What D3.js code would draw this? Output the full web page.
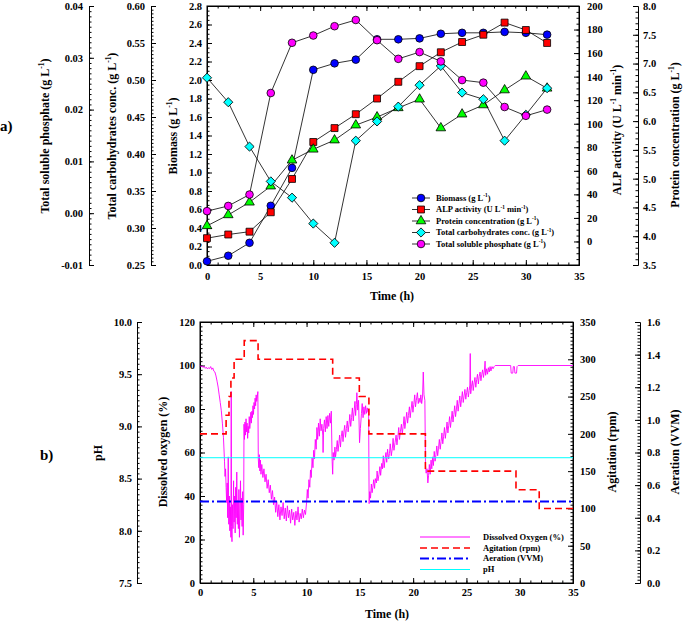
<!DOCTYPE html>
<html><head><meta charset="utf-8">
<script src="https://cdn.jsdelivr.net/npm/d3@7"></script>
<style>body{margin:0;background:#fff}</style>
</head><body>
<svg id="c" width="685" height="624" xmlns="http://www.w3.org/2000/svg"></svg>
<script>
// ---------- DATA: panel a ----------
const timeA = [0,2,4,6,8,10,12,14,16,18,20,22,24,26,28,30,32];
const biomass = [0.04,0.10,0.24,0.64,1.05,2.11,2.18,2.22,2.44,2.44,2.45,2.50,2.51,2.51,2.52,2.51,2.49];
const alpActivity = [2.8,5.9,8.3,24.8,53.1,84.5,96.3,108.1,121.4,135.6,148.9,160.7,169.4,175.6,185.9,179.6,168.6];
const protein = [4.18,4.37,4.59,4.87,5.32,5.51,5.67,5.93,6.07,6.23,6.38,5.88,6.12,6.28,6.54,6.78,6.57];
const carbohydrates = [0.503,0.470,0.410,0.363,0.341,0.306,0.280,0.418,0.444,0.464,0.493,0.519,0.483,0.474,0.418,0.453,0.489];
const phosphate = [0.0004,0.0014,0.0036,0.0232,0.0329,0.0343,0.0361,0.0373,0.0334,0.0298,0.0311,0.0293,0.0257,0.0252,0.0205,0.0188,0.0200];

const ticksTime = [0,5,10,15,20,25,30,35];
const ticksBiomass = [0,0.2,0.4,0.6,0.8,1.0,1.2,1.4,1.6,1.8,2.0,2.2,2.4,2.6,2.8];
const ticksPhos = [-0.01,0,0.01,0.02,0.03,0.04];
const ticksCarb = [0.25,0.30,0.35,0.40,0.45,0.50,0.55,0.60];
const ticksALP = [0,20,40,60,80,100,120,140,160,180,200];
const ticksProt = [3.5,4.0,4.5,5.0,5.5,6.0,6.5,7.0,7.5,8.0];

// ---------- DATA: panel b ----------
const agitationSteps = [[0,200],[2.45,225],[2.72,250],[2.9,275],[3.2,300],[4.15,325],[5.45,300],[12.45,275],[14.95,250],[15.85,200],[21.15,150],[29.65,125],[31.83,100],[35,100]];
const aerationVVM = [[0,0.5],[35,0.5]];
const pHValues = [[0,8.7],[35,8.7]];
const dissolvedOxygen = [
[0.0,100.0],[0.1,99.4],[0.2,99.8],[0.3,99.1],[0.4,99.6],[0.5,98.7],[0.6,99.2],[0.7,98.4],[0.8,99.0],[0.9,98.6],
[1.0,99.5],[1.1,98.2],[1.2,98.9],[1.3,97.4],[1.4,97.0],[1.5,95.2],[1.6,92.8],[1.7,90.1],[1.8,86.5],[1.9,83.0],
[2.0,79.2],[2.1,73.5],[2.2,67.0],[2.3,56.0],[2.35,49.0],[2.4,52.5],[2.45,44.0],[2.5,37.0],[2.55,46.0],[2.6,30.0],
[2.65,58.0],[2.7,27.0],[2.75,40.0],[2.8,24.0],[2.85,35.0],[2.9,21.0],[2.93,88.0],[2.96,26.0],[3.0,19.0],[3.05,36.0],
[3.1,25.0],[3.15,47.0],[3.2,28.0],[3.25,40.0],[3.3,23.0],[3.35,44.0],[3.4,30.0],[3.45,51.0],[3.5,27.0],[3.55,38.0],
[3.6,25.0],[3.65,43.0],[3.7,21.0],[3.75,34.0],[3.8,47.0],[3.85,29.0],[3.9,39.0],[3.95,26.0],[4.0,42.0],[4.05,22.0],
[4.1,36.0],[4.13,73.0],[4.17,66.0],[4.22,74.0],[4.27,68.0],[4.32,75.5],[4.37,69.5],[4.42,73.5],[4.47,66.5],[4.52,72.0],
[4.57,69.0],[4.62,76.5],[4.67,71.0],[4.72,74.0],[4.77,78.5],[4.82,73.5],[4.87,79.0],[4.92,76.0],[4.97,81.5],[5.02,77.5],
[5.07,83.0],[5.12,80.0],[5.17,85.0],[5.22,81.5],[5.27,86.5],[5.32,83.5],[5.37,85.5],[5.43,88.0],[5.47,57.0],[5.52,53.0],
[5.57,59.0],[5.62,51.5],[5.67,56.5],[5.72,50.0],[5.8,54.5],[5.9,48.5],[6.0,52.5],[6.1,46.5],[6.2,50.0],[6.3,43.5],
[6.4,47.5],[6.5,41.5],[6.6,45.0],[6.7,38.5],[6.8,42.5],[6.9,36.0],[7.0,39.5],[7.1,32.5],[7.2,37.5],[7.3,30.5],
[7.4,36.0],[7.5,29.0],[7.6,35.0],[7.7,31.0],[7.8,37.0],[7.9,29.5],[8.0,34.5],[8.1,28.5],[8.2,35.5],[8.3,30.0],
[8.4,33.5],[8.5,27.5],[8.6,34.0],[8.7,29.0],[8.8,32.5],[8.9,26.5],[9.0,33.0],[9.1,29.0],[9.2,35.0],[9.3,28.0],
[9.4,32.0],[9.5,29.5],[9.6,34.0],[9.7,30.0],[9.8,33.5],[9.9,31.5],
[10.0,37.0],[10.07,43.0],[10.14,39.0],[10.22,47.5],[10.3,44.0],[10.37,52.0],[10.44,48.5],[10.52,57.5],[10.6,53.0],[10.67,61.0],
[10.74,57.0],[10.82,66.0],[10.9,61.5],[10.97,71.5],[11.04,66.0],[11.12,73.5],[11.2,67.5],[11.28,75.5],[11.36,70.0],[11.44,73.0],
[11.52,68.0],[11.55,60.0],[11.6,71.0],[11.68,75.0],[11.76,69.5],[11.84,76.5],[11.92,71.0],[12.0,77.0],[12.08,72.0],[12.16,78.0],
[12.24,73.5],[12.32,79.0],[12.4,56.0],
[12.45,50.0],[12.5,60.0],[12.58,56.5],[12.66,62.5],[12.72,58.0],[12.8,61.5],[12.88,65.5],[12.95,60.5],[13.03,64.0],[13.1,68.0],
[13.18,62.5],[13.26,67.5],[13.34,70.0],[13.42,65.0],[13.5,69.5],[13.58,72.5],[13.65,67.0],[13.74,71.0],[13.82,74.5],[13.9,69.5],
[13.98,73.0],[14.06,77.5],[14.14,72.0],[14.22,76.0],[14.3,80.5],[14.38,74.5],[14.46,79.0],[14.54,83.5],[14.6,77.0],[14.67,82.0],
[14.72,87.5],[14.8,79.5],[14.88,84.0],[14.97,64.5],[15.05,71.0],[15.15,78.0],[15.22,82.5],[15.3,76.0],[15.38,81.0],[15.46,77.5],
[15.54,81.5],[15.62,78.0],[15.7,80.5],[15.78,78.5],[15.82,80.0],
[15.87,36.5],[15.93,42.0],[16.0,39.0],[16.08,45.5],[16.15,41.5],[16.22,44.0],[16.3,47.5],[16.38,43.5],[16.45,48.0],[16.55,46.0],
[16.62,51.5],[16.7,47.0],[16.8,50.0],[16.88,53.5],[16.95,49.5],[17.05,55.0],[17.12,52.5],[17.2,58.5],[17.28,53.0],[17.35,56.5],
[17.45,60.0],[17.52,55.5],[17.6,61.5],[17.7,57.0],[17.78,59.5],[17.85,64.0],[17.95,58.5],[18.05,62.0],[18.12,66.5],[18.2,61.0],
[18.3,64.5],[18.4,68.0],[18.48,63.5],[18.56,67.0],[18.65,71.5],[18.72,66.0],[18.8,69.5],[18.9,73.0],[18.98,68.5],[19.06,72.0],
[19.15,76.5],[19.22,71.0],[19.3,74.0],[19.4,78.5],[19.48,73.5],[19.56,77.0],[19.65,81.0],[19.72,76.0],[19.8,79.5],[19.9,83.5],
[19.98,78.5],[20.06,82.0],[20.15,86.5],[20.22,81.0],[20.3,84.0],[20.4,87.5],[20.48,82.5],[20.56,85.0],[20.65,83.0],[20.72,86.5],
[20.8,82.5],[20.88,85.5],[20.95,97.0],[21.02,86.5],[21.1,84.0],
[21.16,54.0],[21.22,50.5],[21.3,52.5],[21.38,46.0],[21.45,49.5],[21.52,54.5],[21.6,50.0],[21.68,56.5],[21.75,52.5],[21.83,58.0],
[21.9,54.0],[21.98,60.5],[22.06,56.0],[22.14,59.0],[22.22,63.0],[22.3,58.5],[22.38,62.0],[22.46,66.0],[22.54,61.5],[22.62,65.0],
[22.7,69.0],[22.78,64.0],[22.86,67.5],[22.94,71.5],[23.02,66.5],[23.1,70.0],[23.18,74.0],[23.26,69.0],[23.34,72.5],[23.42,76.5],
[23.5,71.5],[23.58,75.0],[23.66,79.0],[23.74,74.0],[23.82,77.5],[23.9,81.5],[23.98,76.5],[24.06,80.0],[24.14,84.0],[24.22,79.0],
[24.3,82.5],[24.38,86.0],[24.46,81.0],[24.54,84.5],[24.62,88.0],[24.7,83.0],[24.78,86.0],[24.86,89.0],[24.94,84.5],[25.02,87.5],
[25.1,90.0],[25.18,85.5],[25.26,88.5],[25.32,91.0],[25.36,105.5],[25.4,87.0],[25.48,90.5],[25.56,93.0],[25.64,88.5],[25.72,92.0],
[25.8,94.5],[25.88,90.0],[25.96,93.5],[26.04,96.0],[26.12,91.5],[26.2,95.0],[26.28,97.0],[26.36,93.0],[26.44,96.0],[26.52,98.0],
[26.6,94.5],[26.68,97.5],[26.75,102.0],[26.8,95.5],[26.9,98.5],[26.98,96.0],[27.06,99.0],[27.14,97.0],[27.22,99.5],[27.3,97.5],
[27.4,99.5],[27.5,98.5],[27.6,99.5],[27.7,100.0],
[29.15,100.0],[29.2,96.5],[29.35,96.5],[29.4,99.5],[29.5,99.5],[29.55,96.5],[29.7,96.5],[29.75,99.5],[29.85,100.0],[35.0,100.0]];

const ticksDO = [0,20,40,60,80,100,120];
const ticksPH = [7.5,8.0,8.5,9.0,9.5,10.0];
const ticksRpm = [0,50,100,150,200,250,300,350];
const ticksVVM = [0,0.2,0.4,0.6,0.8,1.0,1.2,1.4,1.6];

// ---------- drawing ----------
const svg = d3.select('#c');
const F = '"Liberation Serif","Times New Roman",Times,serif';
const hy = f => d => d3.format(f)(d).replace('\u2212','-');

function styleAxis(g, fs){
  g.attr('font-family',null).attr('font-size',null);
  g.selectAll('text').attr('font-size',fs).attr('font-weight','bold').attr('font-family',F).attr('fill','#000');
  g.selectAll('path,line').attr('stroke','#000').attr('stroke-width',1);
}
function makeAxis(orient, scale, tx, ty, major, minor, fmt, pad, labels=true){
  const A = {left:d3.axisLeft,right:d3.axisRight,top:d3.axisTop,bottom:d3.axisBottom}[orient];
  const g = svg.append('g').attr('transform',`translate(${tx},${ty})`);
  g.append('g').call(A(scale).tickValues(minor).tickSize(-2.5).tickSizeOuter(0).tickFormat(''));
  g.append('g').call(A(scale).tickValues(major).tickSize(-5).tickSizeOuter(0).tickPadding(pad).tickFormat(labels?fmt:()=>''));
  styleAxis(g, 10.5);
  return g;
}
function fixSup(sel, segs, fs){
  let shift = 0;
  segs.forEach(s=>{
    if(typeof s === 'string'){ sel.append('tspan').attr('dy',-shift).text(s); shift=0; }
    else { sel.append('tspan').attr('font-size',fs*0.62).attr('dy',-fs*0.42).text(s.sup); shift=-fs*0.42; }
  });
}
function label(x,y,rot,segs,fs,anchor='middle'){
  const off = rot===-90 ? `translate(${x+fs*0.35},${y}) rotate(-90)` : `translate(${x},${y+fs*0.35})`;
  const t = svg.append('text').attr('transform',off).attr('text-anchor',anchor)
    .attr('font-size',fs).attr('font-weight','bold').attr('font-family',F).attr('fill','#000');
  fixSup(t, segs, fs);
  return t;
}
const rng = (a,b,s) => d3.range(Math.round(a/s), Math.round(b/s)+1).map(i=>+(i*s).toFixed(6));

// ===== Panel a =====
const A = {l:207, r:579, t:6, b:265};
const xA = d3.scaleLinear([0,35],[A.l,A.r]);
const yBio = d3.scaleLinear([0,2.8],[A.b,A.t]);
const yALP = d3.scaleLinear([-20,200],[A.b,A.t]);
const yProt = d3.scaleLinear([3.5,8],[A.b,A.t]);
const yCarb = d3.scaleLinear([0.25,0.6],[A.b,A.t]);
const yPhos = d3.scaleLinear([-0.01,0.04],[A.b,A.t]);

svg.append('rect').attr('x',A.l).attr('y',A.t).attr('width',A.r-A.l).attr('height',A.b-A.t)
  .attr('fill','none').attr('stroke','#000');
makeAxis('bottom', xA, 0, A.b, ticksTime, rng(0,35,1), d3.format('d'), 8);
makeAxis('top', xA, 0, A.t, ticksTime, rng(0,35,1), d3.format('d'), 3, false);
makeAxis('left', yBio, A.l, 0, ticksBiomass, rng(0,2.8,0.05), hy('.1f'), 5);
makeAxis('left', yCarb, 151, 0, ticksCarb, rng(0.25,0.6,0.005), hy('.2f'), 6);
makeAxis('left', yPhos, 89, 0, ticksPhos, rng(-0.01,0.04,0.001), hy('.2f'), 6);
makeAxis('right', yALP, A.r, 0, ticksALP, rng(-20,200,5), d3.format('d'), 8);
makeAxis('right', yProt, 638, 0, ticksProt, rng(3.5,8,0.1), hy('.1f'), 5);

const seriesA = [
  {v:biomass, y:yBio, col:'#0000ff', sym:d3.symbolCircle, size:46, rot:0},
  {v:alpActivity, y:yALP, col:'#ff0000', sym:d3.symbolSquare, size:48, rot:0},
  {v:protein, y:yProt, col:'#00ff00', sym:d3.symbolTriangle, size:40, rot:0},
  {v:carbohydrates, y:yCarb, col:'#00ffff', sym:d3.symbolSquare, size:42, rot:45},
  {v:phosphate, y:yPhos, col:'#ff00ff', sym:d3.symbolCircle, size:46, rot:0}
];
seriesA.forEach(s=>{
  const pts = timeA.map((t,i)=>[t,s.v[i]]);
  svg.append('path').attr('d', d3.line().x(d=>xA(d[0])).y(d=>s.y(d[1]))(pts))
    .attr('fill','none').attr('stroke','#000').attr('stroke-width',0.8);
  svg.append('g').selectAll('path').data(pts).join('path')
    .attr('transform',d=>`translate(${xA(d[0])},${s.y(d[1])}) rotate(${s.rot})`)
    .attr('d', d3.symbol().type(s.sym).size(s.size)())
    .attr('fill',s.col).attr('stroke','#000').attr('stroke-width',0.8);
});

// legend a
const legA = [
  ['Biomass (g L',{sup:'-1'},')'],
  ['ALP activity (U L',{sup:'-1'},' min',{sup:'-1'},')'],
  ['Protein concentration (g L',{sup:'-1'},')'],
  ['Total carbohydrates conc. (g L',{sup:'-1'},')'],
  ['Total soluble phosphate (g L',{sup:'-1'},')']
];
const legAy = [198,209.5,221,232.5,244];
seriesA.forEach((s,i)=>{
  const y = legAy[i];
  svg.append('line').attr('x1',412).attr('x2',430).attr('y1',y).attr('y2',y).attr('stroke','#000').attr('stroke-width',0.8);
  svg.append('path').attr('transform',`translate(421,${y}) rotate(${s.rot})`)
    .attr('d', d3.symbol().type(s.sym).size(s.size)()).attr('fill',s.col).attr('stroke','#000').attr('stroke-width',0.8);
  label(436, y, 0, legA[i], 8.5, 'start');
});

label(392, 296, 0, ['Time (h)'], 12);
label(45, 136, -90, ['Total soluble phosphate (g L',{sup:'-1'},')'], 12);
label(112, 136, -90, ['Total carbohydrates conc. (g L',{sup:'-1'},')'], 12);
label(173, 136, -90, ['Biomass (g L',{sup:'-1'},')'], 12);
label(617, 130, -90, ['ALP activity (U L',{sup:'-1'},' min',{sup:'-1'},')'], 12);
label(675, 135, -90, ['Protein concentration (g L',{sup:'-1'},')'], 12);
label(0, 126, 0, ['a)'], 15, 'start');

// ===== Panel b =====
const B = {l:200, r:573, t:322, b:583};
const xB = d3.scaleLinear([0,35],[B.l,B.r]);
const yDO = d3.scaleLinear([0,120],[B.b,B.t]);
const yRpm = d3.scaleLinear([0,350],[B.b,B.t]);
const yVVM = d3.scaleLinear([0,1.6],[B.b,B.t]);
const ypH = d3.scaleLinear([7.5,10],[B.b,B.t]);

svg.append('rect').attr('x',B.l).attr('y',B.t).attr('width',B.r-B.l).attr('height',B.b-B.t)
  .attr('fill','none').attr('stroke','#000');
makeAxis('bottom', xB, 0, B.b, ticksTime, rng(0,35,1), d3.format('d'), 6);
makeAxis('top', xB, 0, B.t, ticksTime, rng(0,35,1), d3.format('d'), 3, false);
makeAxis('left', yDO, B.l, 0, ticksDO, rng(0,120,2), d3.format('d'), 5);
makeAxis('left', ypH, 137, 0, ticksPH, rng(7.5,10,0.05), hy('.1f'), 5);
makeAxis('right', yRpm, B.r, 0, ticksRpm, rng(0,350,5), d3.format('d'), 7);
makeAxis('right', yVVM, 640, 0, ticksVVM, rng(0,1.6,0.02), hy('.1f'), 7);

svg.append('path').attr('d', d3.line().x(d=>xB(d[0])).y(d=>yDO(d[1]))(dissolvedOxygen))
  .attr('fill','none').attr('stroke','#ff00ff').attr('stroke-width',0.9);
svg.append('path').attr('d', d3.line().curve(d3.curveStepAfter).x(d=>xB(d[0])).y(d=>yRpm(d[1]))(agitationSteps))
  .attr('fill','none').attr('stroke','#ff0000').attr('stroke-width',1.6).attr('stroke-dasharray','7,4');
svg.append('path').attr('d', d3.line().x(d=>xB(d[0])).y(d=>yVVM(d[1]))(aerationVVM))
  .attr('fill','none').attr('stroke','#0000ff').attr('stroke-width',2).attr('stroke-dasharray','9,3,2,3');
svg.append('path').attr('d', d3.line().x(d=>xB(d[0])).y(d=>ypH(d[1]))(pHValues))
  .attr('fill','none').attr('stroke','#00ffff').attr('stroke-width',1);

const legB = [
  {t:'Dissolved Oxygen (%)', col:'#ff00ff', w:1, dash:null},
  {t:'Agitation (rpm)', col:'#ff0000', w:1.6, dash:'7,4'},
  {t:'Aeration (VVM)', col:'#0000ff', w:2, dash:'9,3,2,3'},
  {t:'pH', col:'#00ffff', w:1, dash:null}
];
const legBy = [537,548,558.5,569.5];
legB.forEach((d,i)=>{
  svg.append('line').attr('x1',420).attr('x2',470).attr('y1',legBy[i]).attr('y2',legBy[i])
    .attr('stroke',d.col).attr('stroke-width',d.w).attr('stroke-dasharray',d.dash);
  label(483, legBy[i], 0, [d.t], 8.5, 'start');
});

label(387, 614, 0, ['Time (h)'], 12);
label(98, 453, -90, ['pH'], 12);
label(163, 452, -90, ['Dissolved oxygen (%)'], 12);
label(612, 452, -90, ['Agitation (rpm)'], 12);
label(675, 452, -90, ['Aeration (VVM)'], 12);
label(40, 455, 0, ['b)'], 15, 'start');
</script>
</body></html>
